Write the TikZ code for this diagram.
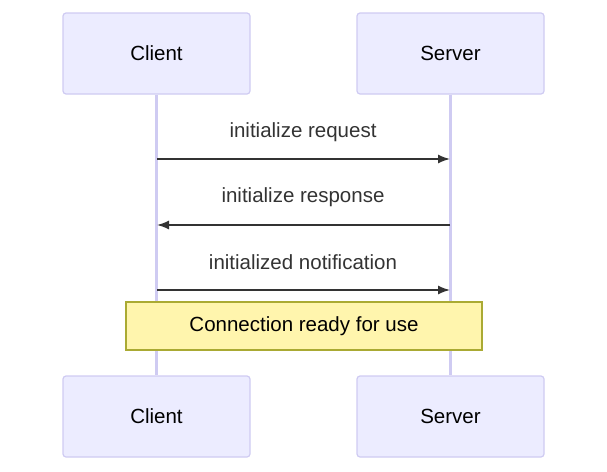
\documentclass[tikz,border=0pt]{standalone}
\usepackage{fontspec}
\setmainfont{Liberation Sans}
\usetikzlibrary{arrows.meta}
\definecolor{actfill}{HTML}{ECECFF}
\definecolor{actdraw}{HTML}{CFCBF2}
\definecolor{notefill}{HTML}{FFF5AD}
\definecolor{notedraw}{HTML}{AAAA33}
\definecolor{txt}{HTML}{333333}
\begin{document}
\begin{tikzpicture}[x=1pt, y=-1pt, font=\fontsize{20.5}{24}\selectfont,
    actor/.style={draw=actdraw, line width=1.2pt, fill=actfill, rounded corners=3pt, minimum width=187pt, minimum height=81pt, text=black},
    msg/.style={-{Latex[length=12pt,width=9pt]}, draw=txt, line width=1.5pt},
    lbl/.style={text=txt}]
    \useasboundingbox (0,0) rectangle (607,471);
    % --- actors ---
    \node[actor] (C1) at (156.5,53.5) {Client};
    \node[actor] (S1) at (450.5,53.5) {Server};
    \node[actor] (C2) at (156.5,416.5) {Client};
    \node[actor] (S2) at (450.5,416.5) {Server};
    % --- lifelines ---
    \draw[actdraw, line width=2.5pt] (C1) -- (C2);
    \draw[actdraw, line width=2.5pt] (S1) -- (S2);
    % --- messages ---
    \coordinate (c1) at (157,159); \coordinate (s1) at (450,159);
    \coordinate (c2) at (157,225); \coordinate (s2) at (450,225);
    \coordinate (c3) at (157,290); \coordinate (s3) at (450,290);
    \draw[msg] (c1) -- (s1);
    \node[lbl] (m1) at (303,132) {initialize request};
    \draw[msg] (s2) -- (c2);
    \node[lbl] (m2) at (303,197) {initialize response};
    \draw[msg] (c3) -- (s3);
    \node[lbl] (m3) at (303,262) {initialized notification};
    % --- note ---
    \node[draw=notedraw, line width=1.2pt, fill=notefill, minimum width=356pt, minimum height=48pt, text=black] (N) at (304,326) {Connection ready for use};
\end{tikzpicture}
\end{document}
